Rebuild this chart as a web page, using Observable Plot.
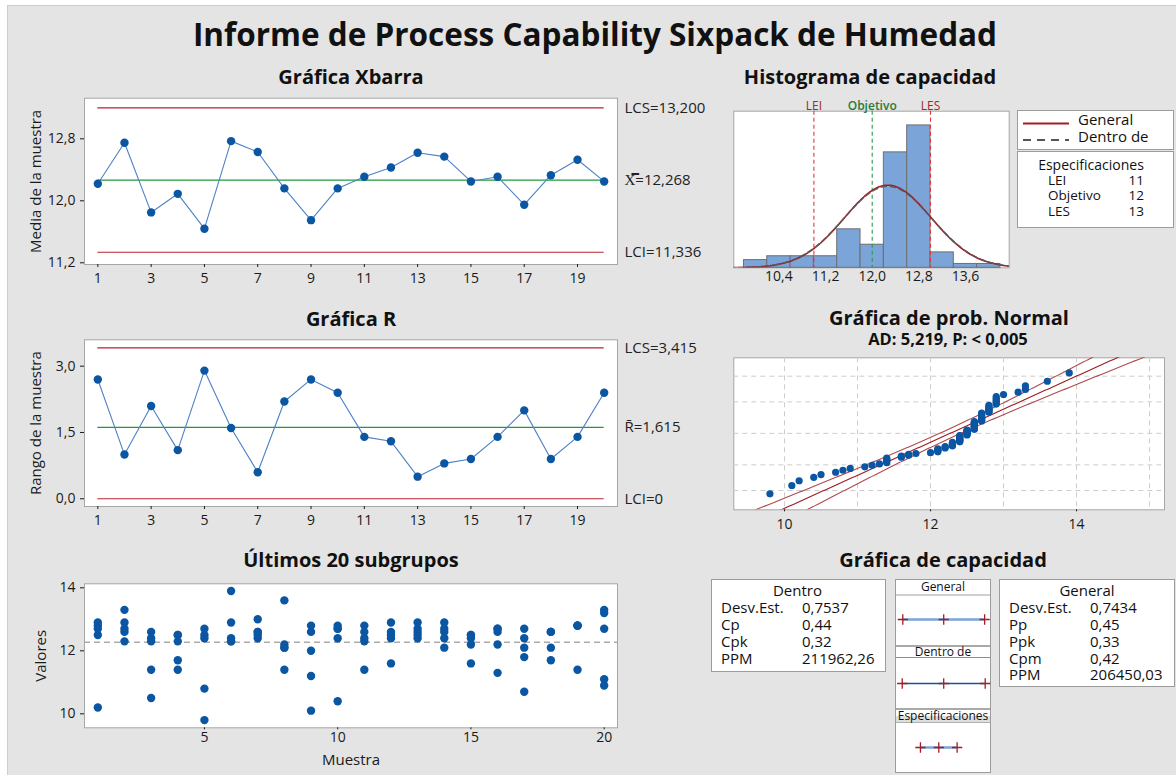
<!DOCTYPE html>
<html><head><meta charset="utf-8">
<script src="https://cdn.jsdelivr.net/npm/d3@7"></script>
<script src="https://cdn.jsdelivr.net/npm/@observablehq/plot@0.6"></script>
<style>
body{margin:0;background:#fff;}
#root{position:relative;width:1176px;height:775px;overflow:hidden;font-family:"Open Sans",sans-serif;color:#111;}
.t{position:absolute;white-space:nowrap;line-height:1;}
.box{position:absolute;background:#fff;border:1px solid #9c9c9c;box-sizing:border-box;}
</style></head><body><div id="root"></div><script>
// ---------------- DATA ----------------
const subgroups = [1,2,3,4,5,6,7,8,9,10,11,12,13,14,15,16,17,18,19,20];
const xbarMeans = [12.22,12.75,11.85,12.09,11.64,12.77,12.63,12.16,11.75,12.16,12.31,12.43,12.62,12.57,12.25,12.31,11.95,12.33,12.53,12.25];
const xbarCL = 12.268, xbarUCL = 13.200, xbarLCL = 11.336;
const ranges = [2.7,1.0,2.1,1.1,2.9,1.6,0.6,2.2,2.7,2.4,1.4,1.3,0.5,0.8,0.9,1.4,2.0,0.9,1.4,2.4];
const rCL = 1.615, rUCL = 3.415, rLCL = 0;
const subgroupValues = [
 [10.2,12.5,12.7,12.8,12.9],[12.3,12.6,12.7,12.9,13.3],[10.5,11.4,12.3,12.4,12.6],[11.4,11.7,12.3,12.5,12.5],
 [9.8,10.8,12.4,12.5,12.7],[12.3,12.3,12.4,12.9,13.9],[12.4,12.5,12.6,12.6,13.0],[11.4,12.1,12.1,12.2,13.6],
 [10.1,11.2,12.0,12.6,12.8],[10.4,12.4,12.7,12.7,12.8],[11.4,12.3,12.4,12.6,12.8],[11.6,12.4,12.5,12.6,12.9],
 [12.4,12.5,12.6,12.7,12.9],[12.1,12.4,12.6,12.7,12.9],[11.6,12.2,12.4,12.5,12.5],[11.3,12.2,12.6,12.7,12.7],
 [10.7,11.8,12.1,12.4,12.7],[11.7,12.1,12.6,12.6,12.6],[11.4,12.8,12.8,12.8,12.8],[10.9,11.1,12.7,13.2,13.3]];
const histEdges = [9.8,10.2,10.6,11.0,11.4,11.8,12.2,12.6,13.0,13.4,13.8,14.2];
const histCounts = [2,3,3,3,10,6,30,37,4,1,1];
const histTicks = [10.4,11.2,12.0,12.8,13.6];
const specNames = ["LEI","Objetivo","LES"];
const specValues = [11,12,13];
const sdOverall = 0.7434, sdWithin = 0.7537, nObs = 100;
const probTicks = [10,12,14];
const probGridX = [10,11,12,13,14,15];
const probGridPct = [1,10,50,90,99];
const adText = "AD: 5,219, P: < 0,005";
const dentroLabels = ["Desv.Est.","Cp","Cpk","PPM"];
const dentroValues = ["0,7537","0,44","0,32","211962,26"];
const generalLabels = ["Desv.Est.","Pp","Ppk","Cpm","PPM"];
const generalValues = ["0,7434","0,45","0,33","0,42","206450,03"];
const capRows = ["General","Dentro de","Especificaciones"];

// ---------------- HELPERS ----------------
const root = document.getElementById("root");
const comma = f => d => d3.format(f)(d).replace(".", ",");
const intFmt = d3.format("d");
const baseStyle = {fontFamily:"Open Sans", fontSize:"13px", background:"transparent", color:"#1a1a1a", overflow:"visible"};
function place(el, left, top){ el.style.position="absolute"; el.style.left=left+"px"; el.style.top=top+"px"; root.appendChild(el); return el;}
function addText(parent, txt, cx, cy, css, align){
  const d = document.createElement("div"); d.className="t"; d.textContent = txt;
  const fs = css.fs || 14;
  d.style.fontSize = fs+"px"; if (css.fw) d.style.fontWeight = css.fw; if (css.color) d.style.color = css.color;
  d.style.top = (cy - 0.531*fs) + "px";
  if (align === "left") { d.style.left = cx + "px"; }
  else if (align === "right") { d.style.left = (cx - 400)+"px"; d.style.width="400px"; d.style.textAlign="right"; }
  else { d.style.left = (cx - 600) + "px"; d.style.width = "1200px"; d.style.textAlign = "center"; }
  parent.appendChild(d); return d;
}
function pdf(z){ return Math.exp(-z*z/2)/Math.sqrt(2*Math.PI); }
function qnorm(p){
  const a=[-3.969683028665376e+01,2.209460984245205e+02,-2.759285104469687e+02,1.383577518672690e+02,-3.066479806614716e+01,2.506628277459239e+00];
  const b=[-5.447609879822406e+01,1.615858368580409e+02,-1.556989798598866e+02,6.680131188771972e+01,-1.328068155288572e+01];
  const c=[-7.784894002430293e-03,-3.223964580411365e-01,-2.400758277161838e+00,-2.549732539343734e+00,4.374664141464968e+00,2.938163982698783e+00];
  const d=[7.784695709041462e-03,3.224671290700398e-01,2.445134137142996e+00,3.754408661907416e+00];
  const pl=0.02425; let q,r;
  if(p<pl){q=Math.sqrt(-2*Math.log(p));return (((((c[0]*q+c[1])*q+c[2])*q+c[3])*q+c[4])*q+c[5])/((((d[0]*q+d[1])*q+d[2])*q+d[3])*q+1);}
  if(p>1-pl){q=Math.sqrt(-2*Math.log(1-p));return -(((((c[0]*q+c[1])*q+c[2])*q+c[3])*q+c[4])*q+c[5])/((((d[0]*q+d[1])*q+d[2])*q+d[3])*q+1);}
  q=p-0.5;r=q*q;return (((((a[0]*r+a[1])*r+a[2])*r+a[3])*r+a[4])*r+a[5])*q/(((((b[0]*r+b[1])*r+b[2])*r+b[3])*r+b[4])*r+1);
}
const BLUE = "#0b56a3", LINEBLUE = "#4d82c4", RED = "#b3262c", GREEN = "#1f9a38";

// ---------------- BACKGROUND & TITLES ----------------
const bg = document.createElement("div");
bg.style.cssText = "background:#e4e4e4;border-left:1px solid #cdcdcd;border-top:1px solid #cdcdcd;width:1170px;height:771px;";
place(bg, 7, 5);
addText(root, "Informe de Process Capability Sixpack de Humedad", 595, 35, {fs:31.5, fw:700, color:"#111"});
addText(root, "Gráfica Xbarra", 351, 78, {fs:20, fw:700});
addText(root, "Gráfica R", 351, 319.5, {fs:20, fw:700});
addText(root, "Últimos 20 subgrupos", 351, 561, {fs:20, fw:700});
addText(root, "Histograma de capacidad", 870, 77.5, {fs:20, fw:700});
addText(root, "Gráfica de prob. Normal", 949, 318.5, {fs:20, fw:700});
addText(root, adText, 948, 340, {fs:16.5, fw:700});
addText(root, "Gráfica de capacidad", 943, 560.5, {fs:20, fw:700});

const first = subgroups[0], last = subgroups[subgroups.length-1];
const oddTicks = subgroups.filter(s => s % 2 === 1);

// ---------------- XBAR ----------------
const xbarData = subgroups.map((s,i)=>({s, v:xbarMeans[i]}));
const xbarLimits = [
  {v:xbarUCL, label:"LCS="+comma(".3f")(xbarUCL)},
  {v:xbarCL, label:"X\u033F="+comma(".3f")(xbarCL)},
  {v:xbarLCL, label:"LCI="+comma(".3f")(xbarLCL)}];
place(Plot.plot({
  width:720, height:196, marginLeft:84, marginRight:103, marginTop:7.7, marginBottom:22,
  style: baseStyle,
  x:{domain:[0.5,20.5]}, y:{domain:[11.178,13.324]},
  marks:[
    Plot.frame({fill:"white", stroke:"#a6a6a6"}),
    Plot.ruleY([xbarUCL, xbarLCL], {x1:first, x2:last, stroke:RED, strokeWidth:1.2}),
    Plot.ruleY([xbarCL], {x1:first, x2:last, stroke:GREEN, strokeWidth:1.2}),
    Plot.line(xbarData, {x:"s", y:"v", stroke:LINEBLUE, strokeWidth:1.1}),
    Plot.dot(xbarData, {x:"s", y:"v", r:4.2, fill:BLUE}),
    Plot.axisX({ticks:oddTicks, tickFormat:intFmt, tickSize:3, fontSize:14, label:null}),
    Plot.axisY({ticks:[11.2,12.0,12.8], tickFormat:comma(".1f"), tickSize:4, fontSize:14, label:null}),
    Plot.text(["Media de la muestra"], {frameAnchor:"left", rotate:-90, dx:-48, textAnchor:"middle", fontSize:15, text:d=>d}),
    Plot.text(xbarLimits, {y:"v", text:"label", frameAnchor:"right", dx:7, textAnchor:"start", fontSize:15, fill:"#222"})
  ]}), 0, 90);

// ---------------- R ----------------
const rData = subgroups.map((s,i)=>({s, v:ranges[i]}));
const rLimits = [
  {v:rUCL, label:"LCS="+comma(".3f")(rUCL)},
  {v:rCL, label:"R\u0304="+comma(".3f")(rCL)},
  {v:rLCL, label:"LCI="+rLCL}];
place(Plot.plot({
  width:720, height:196, marginLeft:84, marginRight:103, marginTop:7.3, marginBottom:22,
  style: baseStyle,
  x:{domain:[0.5,20.5]}, y:{domain:[-0.175,3.597]},
  marks:[
    Plot.frame({fill:"white", stroke:"#a6a6a6"}),
    Plot.ruleY([rUCL, rLCL], {x1:first, x2:last, stroke:RED, strokeWidth:1.2}),
    Plot.ruleY([rCL], {x1:first, x2:last, stroke:GREEN, strokeWidth:1.2}),
    Plot.line(rData, {x:"s", y:"v", stroke:LINEBLUE, strokeWidth:1.1}),
    Plot.dot(rData, {x:"s", y:"v", r:4.2, fill:BLUE}),
    Plot.axisX({ticks:oddTicks, tickFormat:intFmt, tickSize:3, fontSize:14, label:null}),
    Plot.axisY({ticks:[0,1.5,3.0], tickFormat:comma(".1f"), tickSize:4, fontSize:14, label:null}),
    Plot.text(["Rango de la muestra"], {frameAnchor:"left", rotate:-90, dx:-48, textAnchor:"middle", fontSize:15, text:d=>d}),
    Plot.text(rLimits, {y:"v", text:"label", frameAnchor:"right", dx:7, textAnchor:"start", fontSize:15, fill:"#222"})
  ]}), 0, 332);

// ---------------- LAST 20 SUBGROUPS ----------------
const indiv = subgroupValues.flatMap((vals,i)=>vals.map(v=>({s:subgroups[i], v})));
const allValues = indiv.map(d=>d.v);
place(Plot.plot({
  width:720, height:199, marginLeft:84, marginRight:103, marginTop:7.3, marginBottom:47.7,
  style: baseStyle,
  x:{domain:[0.5,20.5]}, y:{domain:[9.556,14.127]},
  marks:[
    Plot.frame({fill:"white", stroke:"#a6a6a6"}),
    Plot.ruleY([xbarCL], {stroke:"#ababab", strokeWidth:1.5, strokeDasharray:"6,4"}),
    Plot.dot(indiv, {x:"s", y:"v", r:4.2, fill:BLUE}),
    Plot.axisX({ticks:[5,10,15,20], tickFormat:intFmt, tickSize:2, tickPadding:2, fontSize:14, label:null}),
    Plot.axisY({ticks:[10,12,14], tickFormat:intFmt, tickSize:4, fontSize:14, label:null}),
    Plot.text(["Valores"], {frameAnchor:"left", rotate:-90, dx:-43, textAnchor:"middle", fontSize:15, text:d=>d}),
    Plot.text(["Muestra"], {frameAnchor:"bottom", dy:37, fontSize:15, text:d=>d})
  ]}), 0, 576);

// ---------------- HISTOGRAM ----------------
const histBars = histCounts.map((c,i)=>({x1:histEdges[i], x2:histEdges[i+1], c}));
const binW = histEdges[1]-histEdges[0];
const curveX = d3.range(9.4, 14.6001, 0.02);
const genCurve = curveX.map(x=>({x, y:nObs*binW*pdf((x-xbarCL)/sdOverall)/sdOverall}));
const withinCurve = curveX.map(x=>({x, y:nObs*binW*pdf((x-xbarCL)/sdWithin)/sdWithin}));
const specs = specNames.map((n,i)=>({name:n, v:specValues[i]}));
const specRed = specs.filter(d=>d.name!=="Objetivo"), specGreen = specs.filter(d=>d.name==="Objetivo");
place(Plot.plot({
  width:456, height:198, marginLeft:13.3, marginRight:167.3, marginTop:20.7, marginBottom:20.7,
  style: baseStyle,
  x:{domain:[9.626,14.35]}, y:{domain:[0,40.7], axis:null},
  marks:[
    Plot.frame({fill:"white", stroke:"#a6a6a6"}),
    Plot.rectY(histBars, {x1:"x1", x2:"x2", y:"c", fill:"#7ba4d8", stroke:"#6e6e6e", strokeWidth:1}),
    Plot.ruleX(specRed, {x:"v", stroke:"#e2353c", strokeWidth:1.1, strokeDasharray:"4,3"}),
    Plot.ruleX(specGreen, {x:"v", stroke:"#2a9a47", strokeWidth:1.1, strokeDasharray:"4,3"}),
    Plot.line(genCurve, {x:"x", y:"y", stroke:"#a51c22", strokeWidth:1.6, clip:true}),
    Plot.line(withinCurve, {x:"x", y:"y", stroke:"#5a5a5a", strokeWidth:1.4, strokeDasharray:"5,4", clip:true}),
    Plot.text(specRed, {x:"v", text:"name", frameAnchor:"top", dy:-10, fill:"#a3262c", fontSize:12}),
    Plot.text(specGreen, {x:"v", text:"name", frameAnchor:"top", dy:-10, fill:"#2a7a3a", fontSize:12, fontWeight:600}),
    Plot.axisX({ticks:histTicks, tickFormat:comma(".1f"), tickSize:0, tickPadding:3, fontSize:14, label:null})
  ]}), 720, 90);

// legend boxes
const lg1 = document.createElement("div"); lg1.className="box"; lg1.style.width="157px"; lg1.style.height="40px";
place(lg1, 1017, 110);
lg1.innerHTML = `<svg width="60" height="40" style="position:absolute;left:0;top:0">
<line x1="5" x2="51" y1="12.5" y2="12.5" stroke="#a51c22" stroke-width="1.8"/>
<line x1="5" x2="51" y1="29" y2="29" stroke="#555" stroke-width="1.8" stroke-dasharray="8,6"/></svg>`;
addText(lg1, "General", 60, 8.5, {fs:15}, "left");
addText(lg1, "Dentro de", 60, 25.7, {fs:15}, "left");
const lg2 = document.createElement("div"); lg2.className="box"; lg2.style.width="157px"; lg2.style.height="77px";
place(lg2, 1017, 151);
addText(lg2, "Especificaciones", 73, 13, {fs:14});
specs.forEach((s,i)=>{
  addText(lg2, s.name, 30, 29+i*15.4, {fs:13.5}, "left");
  addText(lg2, String(s.v), 126, 29+i*15.4, {fs:13.5}, "right");
});

// ---------------- NORMAL PROBABILITY ----------------
const sorted = allValues.slice().sort(d3.ascending);
const nPts = sorted.length;
const probPts = sorted.map((v,i)=>({v, z:qnorm((i+1-0.3)/(nPts+0.4))}));
const zs = d3.range(-3.6, 3.6001, 0.05);
const fitLine = zs.map(z=>({z, x:xbarCL+sdOverall*z}));
const ciLow = zs.map(z=>({z, x:xbarCL+sdOverall*z-1.96*sdOverall*Math.sqrt(1/nPts+z*z/(2*nPts))}));
const ciHigh = zs.map(z=>({z, x:xbarCL+sdOverall*z+1.96*sdOverall*Math.sqrt(1/nPts+z*z/(2*nPts))}));
const zGrid = probGridPct.map(p=>qnorm(p/100));
place(Plot.plot({
  width:456, height:181, marginLeft:13.3, marginRight:12, marginTop:7.3, marginBottom:21.7,
  style: baseStyle,
  x:{domain:[9.305,15.205]}, y:{domain:[-3.11,3.075], axis:null},
  marks:[
    Plot.frame({fill:"white", stroke:"#a6a6a6"}),
    Plot.gridX(probGridX, {stroke:"#cccccc", strokeOpacity:1, strokeDasharray:"5,4"}),
    Plot.gridY(zGrid, {stroke:"#cccccc", strokeOpacity:1, strokeDasharray:"5,4"}),
    Plot.line(ciLow, {x:"x", y:"z", stroke:"#b04a4f", strokeWidth:1.1, clip:true}),
    Plot.line(ciHigh, {x:"x", y:"z", stroke:"#b04a4f", strokeWidth:1.1, clip:true}),
    Plot.line(fitLine, {x:"x", y:"z", stroke:"#9e1b20", strokeWidth:1.1, clip:true}),
    Plot.dot(probPts, {x:"v", y:"z", r:3.6, fill:BLUE}),
    Plot.axisX({ticks:probTicks, tickFormat:intFmt, tickSize:2, fontSize:14, label:null})
  ]}), 720, 350);

// ---------------- CAPABILITY ----------------
function statBox(title, labels, values, left, top, w, h){
  const b = document.createElement("div"); b.className="box"; b.style.width=w+"px"; b.style.height=h+"px";
  place(b, left, top);
  addText(b, title, w/2 - 1 + (title==="Dentro" ? -1 : 0), 11.2, {fs:15});
  labels.forEach((l,i)=>{
    addText(b, l, 9, 28.4 + i*16.75, {fs:15}, "left");
    addText(b, values[i], 90, 28.4 + i*16.75, {fs:15}, "left");
  });
}
statBox("Dentro", dentroLabels, dentroValues, 711, 579, 175, 93);
statBox("General", generalLabels, generalValues, 999, 579, 176, 108);

const mid = document.createElement("div"); mid.className="box"; mid.style.width="96px"; mid.style.height="194px";
place(mid, 895, 579);
const ints = [
  {row:capRows[0], lo:xbarCL-3*sdOverall, c:xbarCL, hi:xbarCL+3*sdOverall},
  {row:capRows[1], lo:xbarCL-3*sdWithin, c:xbarCL, hi:xbarCL+3*sdWithin},
  {row:capRows[2], lo:specValues[0], c:specValues[1], hi:specValues[2]}];
const tickPts = ints.flatMap(d=>[d.lo,d.c,d.hi].map(x=>({row:d.row, x})));
const capPlot = Plot.plot({
  width:94, height:192, marginLeft:0, marginRight:0, marginTop:39, marginBottom:24.3,
  style: baseStyle,
  x:{domain:[9.695,14.818], axis:null}, y:{type:"point", domain:capRows, padding:0, axis:null},
  marks:[
    Plot.ruleY([ints[0]], {y:"row", x1:"lo", x2:"hi", stroke:"#7ba4d8", strokeWidth:2.6}),
    Plot.ruleY([ints[1]], {y:"row", x1:"lo", x2:"hi", stroke:"#1c4f9c", strokeWidth:1.6}),
    Plot.ruleY([ints[2]], {y:"row", x1:"lo", x2:"hi", stroke:"#7ba4d8", strokeWidth:2.6}),
    Plot.dot(tickPts, {x:"x", y:"row", symbol:"plus", r:3.4, stroke:"#a51c22", strokeWidth:1.3})
  ]});
capPlot.style.position="absolute"; capPlot.style.left="0px"; capPlot.style.top="0px";
mid.appendChild(capPlot);
function sep(top, h, color){ const s=document.createElement("div"); s.style.cssText=`position:absolute;left:0;width:94px;top:${top}px;height:${h}px;background:${color}`; mid.appendChild(s); }
sep(14, 2, "#cfcfcf");
sep(65, 2, "#a9a9a9");
sep(77, 1, "#8c8c8c");
sep(128, 2, "#a9a9a9");
sep(136, 6, "#dedede");
sep(142, 1, "#b0b0b0");
addText(mid, capRows[0], 47, 7.5, {fs:12});
addText(mid, capRows[1], 47, 72, {fs:12});
addText(mid, capRows[2], 47, 136.5, {fs:12});
</script></body></html>
